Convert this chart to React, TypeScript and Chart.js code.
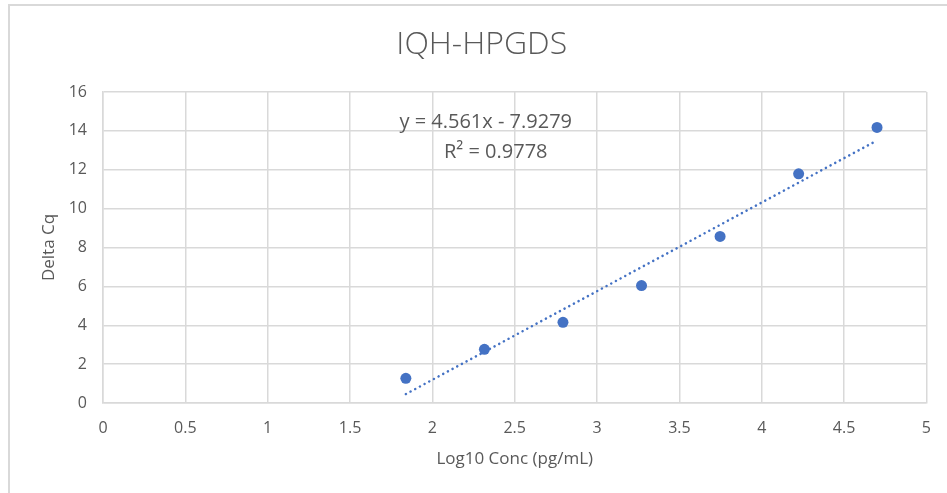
import React, { useEffect, useRef } from "react";
import { Chart, registerables } from "chart.js";

Chart.register(...registerables);

const chartTitle = "IQH-HPGDS";
const xAxisTitle = "Log10 Conc (pg/mL)";
const yAxisTitle = "Delta Cq";

const logConc = [1.839, 2.316, 2.793, 3.27, 3.747, 4.224, 4.7];
const deltaCq = [1.27, 2.76, 4.15, 6.04, 8.57, 11.79, 14.18];

const slope = 4.561;
const intercept = -7.9279;
const equationText = "y = 4.561x - 7.9279";
const r2Text = "R² = 0.9778";

const xMin = 0;
const xMax = 5;
const xStep = 0.5;
const yMin = 0;
const yMax = 16;
const yStep = 2;

const FONT = "'Open Sans', 'Noto Sans', sans-serif";
const TEXT = "#595959";
const GRID = "#d9d9d9";
const BLUE = "#4472C4";

const annotationPlugin = {
  id: "annot",
  afterDatasetsDraw(chart: any) {
    const { ctx, scales, chartArea } = chart;
    const xs = scales.x;
    const ys = scales.y;
    ctx.save();
    ctx.fillStyle = TEXT;
    ctx.textAlign = "center";
    ctx.textBaseline = "middle";
    ctx.font = `20px ${FONT}`;
    ctx.fillText(equationText, xs.getPixelForValue(2.324), ys.getPixelForValue(14.46));
    ctx.fillText(r2Text, xs.getPixelForValue(2.385), ys.getPixelForValue(12.92));
    // chart title
    ctx.font = `300 32px ${FONT}`;
    ctx.fillText(chartTitle, (chartArea.left + chartArea.right) / 2 - 33, 45);
    ctx.restore();
  },
};

export default function App() {
  const ref = useRef<HTMLCanvasElement | null>(null);
  useEffect(() => {
    if (!ref.current) return;
    const x0 = Math.min(...logConc);
    const x1 = Math.max(...logConc);
    const chart = new Chart(ref.current, {
      type: "scatter",
      data: {
        datasets: [
          {
            label: "Trendline",
            data: [
              { x: x0, y: slope * x0 + intercept },
              { x: x1, y: slope * x1 + intercept },
            ],
            showLine: true,
            borderColor: BLUE,
            borderWidth: 2.5,
            borderDash: [0.1, 5.2],
            borderCapStyle: "round",
            pointRadius: 0,
            fill: false,
          } as any,
          {
            label: "Delta Cq",
            data: logConc.map((x, i) => ({ x, y: deltaCq[i] })),
            backgroundColor: BLUE,
            borderColor: BLUE,
            pointRadius: 5.5,
            pointBorderWidth: 0,
            showLine: false,
          },
        ],
      },
      options: {
        animation: false,
        responsive: false,
        maintainAspectRatio: false,
        layout: { padding: { left: 0, right: 18, top: 92, bottom: 0 } },
        plugins: {
          legend: { display: false },
          title: { display: false },
          tooltip: { enabled: false },
        },
        scales: {
          x: {
            type: "linear",
            min: xMin,
            max: xMax,
            ticks: {
              stepSize: xStep,
              color: TEXT,
              font: { family: FONT, size: 16 },
              padding: 16,
              callback: (v: any) => String(v),
            },
            grid: { color: GRID, lineWidth: 1.5, drawTicks: false },
            border: { color: GRID, width: 1.5 },
            title: {
              display: true,
              text: xAxisTitle,
              color: TEXT,
              font: { family: FONT, size: 17 },
              padding: { top: 0, bottom: 24 },
            },
            afterFit: (s: any) => {
              s.height = 90;
            },
          },
          y: {
            type: "linear",
            min: yMin,
            max: yMax,
            ticks: {
              stepSize: yStep,
              color: TEXT,
              font: { family: FONT, size: 16 },
              padding: 16,
            },
            grid: { color: GRID, lineWidth: 1.5, drawTicks: false },
            border: { color: GRID, width: 1.5 },
            title: {
              display: true,
              text: yAxisTitle,
              color: TEXT,
              font: { family: FONT, size: 17 },
              padding: { top: 39, bottom: 0 },
            },
            afterFit: (s: any) => {
              s.width = 103;
            },
          },
        },
      },
      plugins: [annotationPlugin],
    });
    return () => chart.destroy();
  }, []);

  return (
    <div style={{ position: "fixed", left: 0, top: 0, width: 947, height: 493, background: "#fff" }}>
      <div
        style={{
          position: "absolute",
          left: 8,
          top: 4,
          right: 0,
          bottom: 0,
          borderTop: `2px solid ${GRID}`,
          borderLeft: `2px solid ${GRID}`,
        }}
      />
      <canvas ref={ref} width={947} height={493} style={{ position: "absolute", left: 0, top: 0 }} />
    </div>
  );
}
